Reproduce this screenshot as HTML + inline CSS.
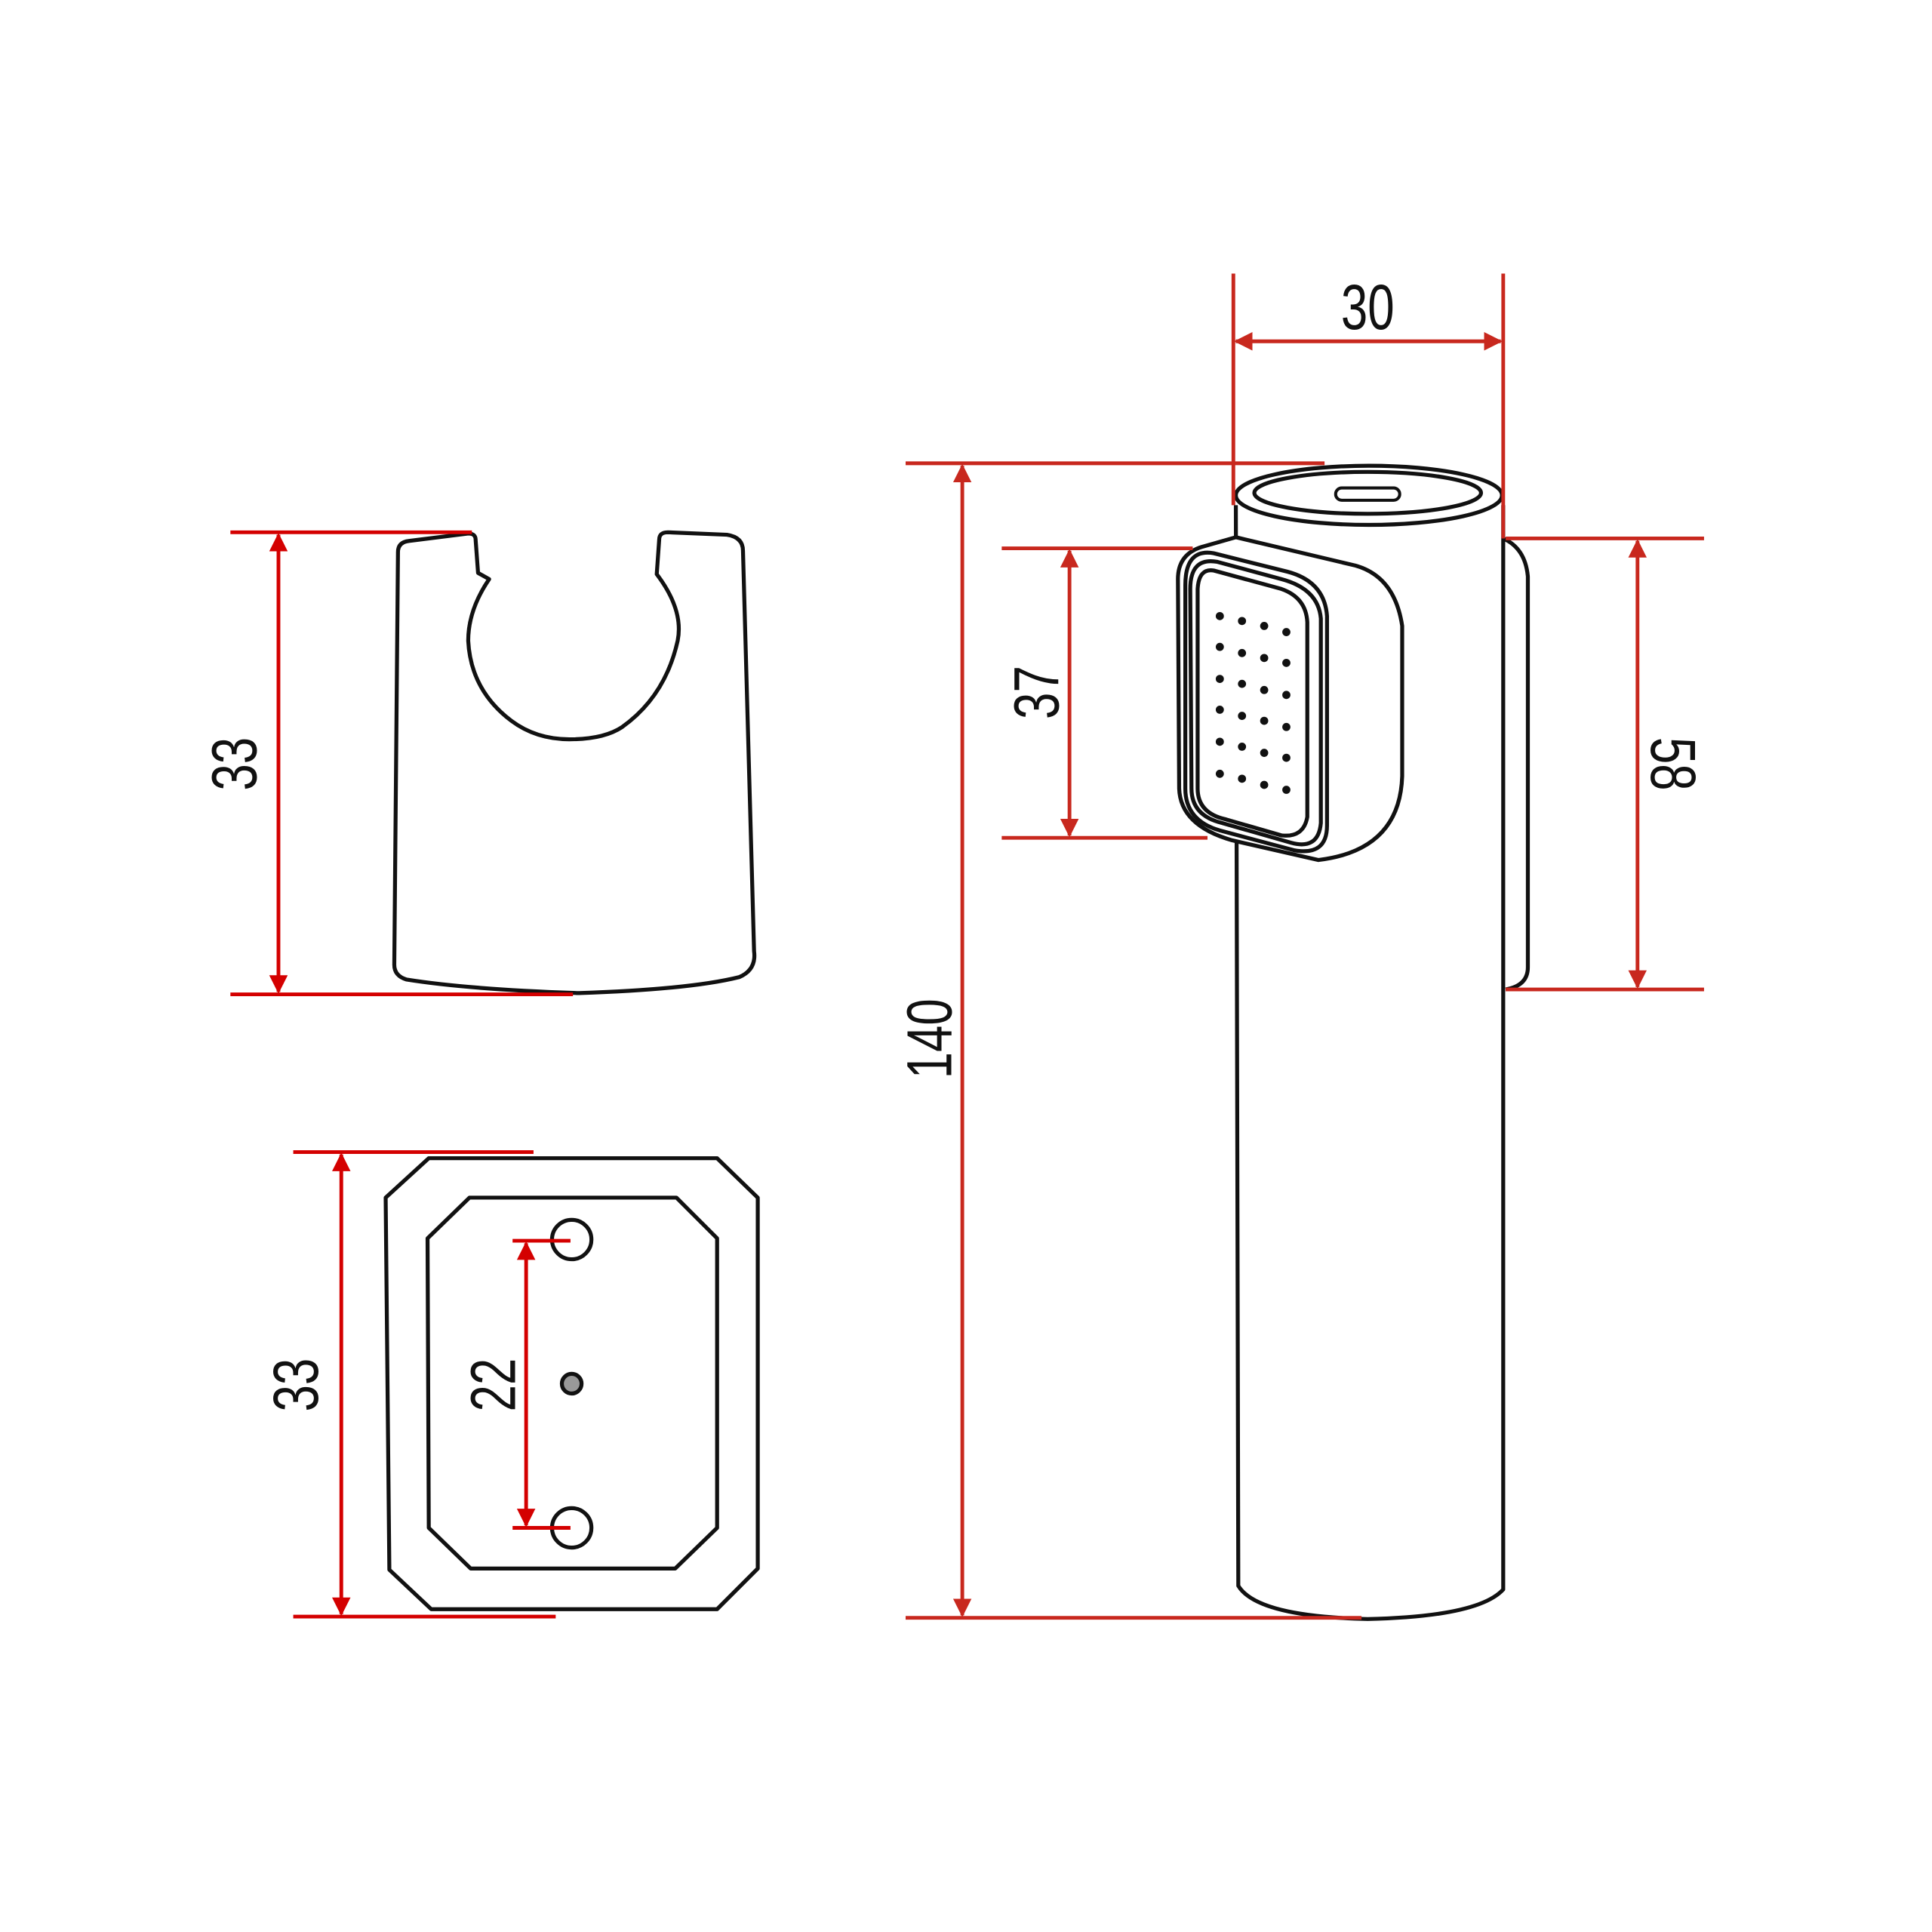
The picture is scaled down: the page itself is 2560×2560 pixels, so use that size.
<!DOCTYPE html>
<html><head><meta charset="utf-8"><style>
html,body{margin:0;padding:0;background:#fff}
svg{display:block}
text{font-family:"Liberation Sans",sans-serif;font-size:52px;fill:#111}
</style></head><body>
<svg width="2560" height="2560" viewBox="0 0 1568 1568" xmlns="http://www.w3.org/2000/svg">
<defs>
<marker id="a" viewBox="0 0 10 10" refX="9" refY="5" markerWidth="5" markerHeight="5" orient="auto-start-reverse"><path d="M0,0 L10,5 L0,10 z" fill="#c8281e"/></marker>
<marker id="b" viewBox="0 0 10 10" refX="9" refY="5" markerWidth="5" markerHeight="5" orient="auto-start-reverse"><path d="M0,0 L10,5 L0,10 z" fill="#d40000"/></marker>
</defs>
<g fill="none" stroke="#111" stroke-width="3.2" stroke-linejoin="round">
<path d="M323,448 Q323,440 332,439 L380,433 Q386,433 386,438 L388,465 L397,470 Q380,495 380,520 Q382,560 415,585 Q435,600 462,600 Q490,600 505,590 Q540,565 550,520 Q555,495 533,466 L535,438 Q535,432 542,432 L590,434 Q603,436 603,447 L612,772 Q614,787 600,793 Q560,803 470,806 Q380,803 330,795 Q320,792 320,783 Z"/>
<path d="M348,940 L582,940 L615,972 L615,1273 L582,1306 L350,1306 L316,1274 L313,972 Z"/>
<path d="M381,972 L549,972 L582,1005 L582,1240 L548,1273 L382,1273 L348,1240 L347,1005 Z"/>
<circle cx="464" cy="1006" r="16"/>
<circle cx="464" cy="1240" r="16"/>
<circle cx="464" cy="1123" r="8" fill="#999"/>
<path d="M1003,410 L1005,1287 Q1020,1312 1110,1314 Q1200,1312 1220,1290 L1220,410"/>
<ellipse cx="1111" cy="402" rx="108" ry="24" fill="#fff"/>
<ellipse cx="1110" cy="400" rx="92" ry="17"/>
<rect x="1084" y="396" width="52" height="10" rx="5" stroke-width="2.5"/>
<path d="M1220,437 Q1238,445 1240,468 L1240,785 Q1240,800 1222,803"/>
<path d="M1003,436 L1100,459 Q1132,468 1138,508 L1138,630 Q1136,690 1070,698 L1000,682 Q958,670 957,640 L956,470 Q956,450 975,444 Z" fill="#fff"/>
<path d="M985,449 L1045,464 Q1075,472 1077,500 L1077,670 Q1077,695 1050,690 L990,674 Q962,666 962,640 L962,475 Q962,445 985,449 Z"/>
<path d="M988,456 L1040,470 Q1070,478 1072,502 L1072,668 Q1070,690 1048,684 L992,668 Q967,662 967,640 L966,478 Q966,452 988,456 Z"/>
<path d="M985,463 L1040,478 Q1060,485 1061,505 L1061,663 Q1058,680 1040,678 L995,665 Q972,660 972,640 L972,478 Q973,461 985,463 Z"/>
</g>
<g fill="#111">
<circle cx="990" cy="500" r="3.3"/><circle cx="1008" cy="504" r="3.3"/><circle cx="1026" cy="508" r="3.3"/><circle cx="1044" cy="513" r="3.3"/>
<circle cx="990" cy="525" r="3.3"/><circle cx="1008" cy="530" r="3.3"/><circle cx="1026" cy="534" r="3.3"/><circle cx="1044" cy="538" r="3.3"/>
<circle cx="990" cy="551" r="3.3"/><circle cx="1008" cy="555" r="3.3"/><circle cx="1026" cy="560" r="3.3"/><circle cx="1044" cy="564" r="3.3"/>
<circle cx="990" cy="576" r="3.3"/><circle cx="1008" cy="581" r="3.3"/><circle cx="1026" cy="585" r="3.3"/><circle cx="1044" cy="590" r="3.3"/>
<circle cx="990" cy="602" r="3.3"/><circle cx="1008" cy="606" r="3.3"/><circle cx="1026" cy="611" r="3.3"/><circle cx="1044" cy="615" r="3.3"/>
<circle cx="990" cy="628" r="3.3"/><circle cx="1008" cy="632" r="3.3"/><circle cx="1026" cy="637" r="3.3"/><circle cx="1044" cy="641" r="3.3"/>
</g>
<g stroke="#d40000" stroke-width="3" fill="none">
<line x1="187" y1="432" x2="383" y2="432"/>
<line x1="187" y1="807" x2="465" y2="807"/>
<line x1="226" y1="434" x2="226" y2="805" marker-start="url(#b)" marker-end="url(#b)"/>
<line x1="238" y1="935" x2="433" y2="935"/>
<line x1="238" y1="1312" x2="451" y2="1312"/>
<line x1="277" y1="937" x2="277" y2="1310" marker-start="url(#b)" marker-end="url(#b)"/>
<line x1="416" y1="1007" x2="463" y2="1007"/>
<line x1="416" y1="1240" x2="463" y2="1240"/>
<line x1="427" y1="1009" x2="427" y2="1238" marker-start="url(#b)" marker-end="url(#b)"/>
</g>
<g stroke="#c8281e" stroke-width="3" fill="none">
<line x1="1001" y1="222" x2="1001" y2="410"/>
<line x1="1220" y1="222" x2="1220" y2="437"/>
<line x1="1003" y1="277" x2="1218" y2="277" marker-start="url(#a)" marker-end="url(#a)"/>
<line x1="735" y1="376" x2="1075" y2="376"/>
<line x1="735" y1="1313" x2="1105" y2="1313"/>
<line x1="781" y1="378" x2="781" y2="1311" marker-start="url(#a)" marker-end="url(#a)"/>
<line x1="813" y1="445" x2="968" y2="445"/>
<line x1="813" y1="680" x2="980" y2="680"/>
<line x1="868" y1="447" x2="868" y2="678" marker-start="url(#a)" marker-end="url(#a)"/>
<line x1="1222" y1="437" x2="1383" y2="437"/>
<line x1="1222" y1="803" x2="1383" y2="803"/>
<line x1="1329" y1="439" x2="1329" y2="801" marker-start="url(#a)" marker-end="url(#a)"/>
</g>
<text transform="translate(1110,267) scale(0.75,1)" text-anchor="middle">30</text>
<text transform="translate(208,620) rotate(-90) scale(0.75,1)" text-anchor="middle">33</text>
<text transform="translate(258,1124) rotate(-90) scale(0.75,1)" text-anchor="middle">33</text>
<text transform="translate(418,1124) rotate(-90) scale(0.75,1)" text-anchor="middle">22</text>
<text transform="translate(772,843) rotate(-90) scale(0.75,1)" text-anchor="middle">140</text>
<text transform="translate(859,562) rotate(-90) scale(0.75,1)" text-anchor="middle">37</text>
<text transform="translate(1340,620) rotate(90) scale(0.75,1)" text-anchor="middle">58</text>
</svg>
</body></html>
